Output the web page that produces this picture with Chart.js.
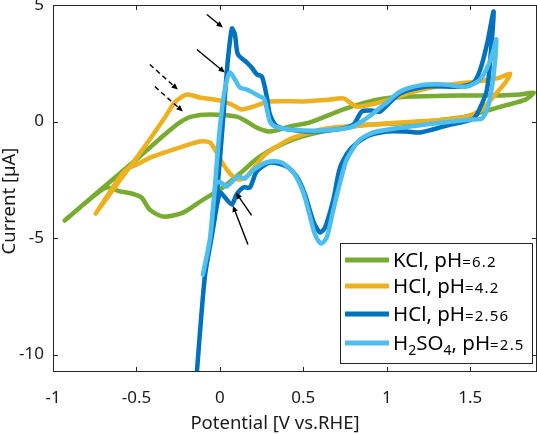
<!DOCTYPE html>
<html><head><meta charset="utf-8">
<script src="https://cdn.jsdelivr.net/npm/chart.js@4.4.1/dist/chart.umd.min.js"></script>
<style>html,body{margin:0;padding:0;background:#fff;}#wrap{width:537px;height:434px;}</style>
</head><body><div id="wrap"><canvas id="c" width="537" height="434"></canvas></div>
<script>
// ---- data (Potential [V vs. RHE], Current [µA]) ----
const kclPotential = [-0.93,-0.72,-0.48,-0.33,-0.24,-0.17,-0.06,0.10,0.16,0.22,0.30,0.42,0.54,0.74,0.94,1.14,1.44,1.68,1.80,1.88,
  1.83,1.71,1.54,1.44,1.24,1.04,0.84,0.64,0.44,0.24,0.12,0.00,-0.10,-0.22,-0.34,-0.42,-0.47,-0.53,-0.60,-0.68,-0.81,-0.93];
const kclCurrent = [-4.25,-2.96,-1.50,-0.56,-0.04,0.21,0.30,0.21,0.00,-0.26,-0.43,-0.21,-0.04,0.52,0.94,1.07,1.12,1.12,1.16,1.24,
  0.94,0.69,0.34,0.17,0.00,-0.09,-0.17,-0.39,-0.77,-1.50,-2.23,-2.92,-3.35,-3.91,-4.08,-3.78,-3.26,-3.09,-3.00,-2.83,-3.52,-4.25];

const hcl42Potential = [-0.744,-0.60,-0.45,-0.33,-0.27,-0.20,-0.12,0.00,0.07,0.13,0.20,0.30,0.50,0.66,0.74,0.82,0.93,1.04,1.14,1.34,1.54,1.68,1.74,
  1.71,1.65,1.57,1.48,1.28,1.08,0.84,0.64,0.44,0.36,0.27,0.21,0.16,0.11,0.06,0.01,-0.03,-0.06,-0.12,-0.22,-0.40,-0.50,-0.56,-0.61,-0.744];
const hcl42Current = [-3.95,-2.53,-1.07,0.17,0.82,1.16,1.03,0.90,0.73,0.52,0.64,0.86,0.86,0.94,0.99,0.64,0.77,0.99,1.24,1.55,1.72,1.89,2.06,
  1.67,1.16,0.52,0.21,0.04,-0.04,-0.17,-0.30,-0.69,-0.99,-1.42,-1.93,-2.36,-2.49,-2.23,-1.72,-1.20,-0.90,-0.86,-1.07,-1.50,-1.85,-2.06,-2.49,-3.95];

const hcl256Potential = [-0.138,-0.09,-0.042,-0.018,0.000,0.024,0.048,0.072,0.09,0.108,0.162,0.19,0.222,0.252,0.282,0.30,0.342,0.42,0.54,0.70,0.80,0.85,0.91,0.96,1.08,1.24,1.44,1.52,1.56,1.60,1.64,
  1.62,1.60,1.56,1.52,1.36,1.20,1.12,1.00,0.88,0.78,0.72,0.68,0.63,0.60,0.56,0.51,0.46,0.40,0.30,0.22,0.18,0.14,0.10,0.072,0.03,0.00,-0.042,-0.09,-0.138];
const hcl256Current = [-10.75,-6.65,-4.64,-3.13,-1.63,0.52,2.66,3.99,3.73,2.88,2.53,2.32,2.02,1.93,1.03,0.30,-0.21,-0.34,-0.43,-0.34,-0.13,0.43,0.47,0.43,1.20,1.50,1.50,1.67,2.23,3.30,4.72,
  2.66,1.37,0.60,0.13,-0.17,-0.47,-0.43,-0.43,-0.64,-1.20,-1.97,-3.35,-4.55,-4.76,-4.29,-3.13,-2.36,-1.93,-1.76,-2.15,-2.83,-2.83,-3.13,-3.56,-3.26,-3.05,-4.64,-6.65,-10.75];

const h2so4Potential = [-0.102,-0.06,-0.036,-0.012,0.012,0.036,0.06,0.09,0.12,0.162,0.198,0.24,0.264,0.282,0.30,0.33,0.42,0.60,0.78,0.85,0.91,1.00,1.08,1.20,1.34,1.48,1.56,1.61,1.64,1.656,
  1.64,1.61,1.57,1.50,1.34,1.14,0.94,0.84,0.76,0.72,0.68,0.64,0.606,0.57,0.54,0.50,0.44,0.37,0.30,0.24,0.19,0.15,0.11,0.08,0.04,0.006,-0.024,-0.06,-0.102];
const h2so4Current = [-6.57,-5.06,-3.35,-1.20,0.52,1.59,2.10,1.80,1.46,1.37,1.24,1.07,0.99,0.52,0.00,-0.21,-0.34,-0.39,-0.26,0.00,0.30,0.82,1.29,1.55,1.59,1.50,1.80,2.45,3.09,3.52,
  2.02,0.73,0.13,0.09,-0.04,-0.21,-0.43,-0.77,-1.63,-2.62,-3.78,-4.98,-5.24,-4.85,-4.08,-3.05,-2.19,-1.76,-1.72,-1.89,-2.15,-2.45,-2.36,-2.53,-2.79,-2.62,-2.62,-5.06,-6.57];

const xTickValues = [-1, -0.5, 0, 0.5, 1, 1.5];
const yTickValues = [-10, -5, 0, 5];
const xTitle = 'Potential [V vs.RHE]';
const yTitle = 'Current [µA]';

// legend labels (segments: normal / subscript / small)
const legendLabels = [
  [["KCl, pH","n"],["=6.2","s"]],
  [["HCl, pH","n"],["=4.2","s"]],
  [["HCl, pH","n"],["=2.56","s"]],
  [["H","n"],["2","b"],["SO","n"],["4","b"],[", pH","n"],["=2.5","s"]]
];
const seriesColors = ["#77AC30", "#EDB120", "#0072BD", "#4DBEEE"];

// annotation arrows (data coordinates)
const arrowTailX = [-0.078, -0.138, -0.42, -0.39, 0.19, 0.168];
const arrowTailY = [4.59, 3.09, 2.45, 1.50, -4.03, -5.28];
const arrowHeadX = [0.018, 0.03, -0.252, -0.222, 0.096, 0.078];
const arrowHeadY = [4.03, 2.10, 1.37, 0.43, -3.05, -3.61];
const arrowDashed = [false, false, true, true, false, false];

function pts(xs, ys){ return xs.map((v,i)=>({x:v, y:ys[i]})); }

const frame = {
  id:'frame',
  afterDraw(chart){
    const {ctx, chartArea:a, scales:{x,y}} = chart;
    ctx.save();
    ctx.strokeStyle = '#262626'; ctx.lineWidth = 1;
    ctx.strokeRect(a.left+0.5, a.top+0.5, a.right-a.left-1, a.bottom-a.top-1);
    ctx.beginPath();
    const tl = 5;
    xTickValues.forEach(v=>{ const px=Math.round(x.getPixelForValue(v))+0.5;
      ctx.moveTo(px,a.bottom); ctx.lineTo(px,a.bottom-tl); ctx.moveTo(px,a.top); ctx.lineTo(px,a.top+tl); });
    yTickValues.forEach(v=>{ const py=Math.round(y.getPixelForValue(v))+0.5;
      ctx.moveTo(a.left,py); ctx.lineTo(a.left+tl,py); ctx.moveTo(a.right,py); ctx.lineTo(a.right-tl,py); });
    ctx.stroke();
    // axis titles
    ctx.fillStyle='#1a1a1a'; ctx.font='18.5px "Noto Sans"';
    ctx.textAlign='center'; ctx.textBaseline='middle';
    ctx.fillText(xTitle, a.left+222, a.bottom+52);
    ctx.translate(10, a.top+196); ctx.rotate(-Math.PI/2);
    ctx.fillText(yTitle, 0, 0);
    ctx.restore();
  }
};

const arrows = {
  id:'arrows',
  afterDatasetsDraw(chart){
    const {ctx, scales:{x,y}} = chart;
    ctx.save();
    ctx.strokeStyle='#000'; ctx.fillStyle='#000'; ctx.lineWidth=1.4;
    for(let i=0;i<arrowTailX.length;i++){
      const x0=x.getPixelForValue(arrowTailX[i]), y0=y.getPixelForValue(arrowTailY[i]);
      const x1=x.getPixelForValue(arrowHeadX[i]), y1=y.getPixelForValue(arrowHeadY[i]);
      const ang=Math.atan2(y1-y0,x1-x0), hl=7;
      ctx.setLineDash(arrowDashed[i]?[5,3.5]:[]);
      ctx.beginPath(); ctx.moveTo(x0,y0);
      ctx.lineTo(x1-Math.cos(ang)*hl*0.7, y1-Math.sin(ang)*hl*0.7); ctx.stroke();
      ctx.setLineDash([]);
      ctx.beginPath(); ctx.moveTo(x1,y1);
      ctx.lineTo(x1-hl*Math.cos(ang-0.42), y1-hl*Math.sin(ang-0.42));
      ctx.lineTo(x1-hl*Math.cos(ang+0.42), y1-hl*Math.sin(ang+0.42));
      ctx.closePath(); ctx.fill();
    }
    ctx.restore();
  }
};

const legendBox = {
  id:'legendBox',
  afterDraw(chart){
    const {ctx, chartArea:a} = chart;
    const bx=a.right-197, by=a.bottom-129, bw=193, bh=121;
    ctx.save();
    ctx.fillStyle='#fff'; ctx.fillRect(bx,by,bw,bh);
    ctx.strokeStyle='#262626'; ctx.lineWidth=1; ctx.strokeRect(bx+0.5,by+0.5,bw-1,bh-1);
    const rowY=[by+17, by+43, by+71, by+100];
    legendLabels.forEach((segs,i)=>{
      const yy=rowY[i];
      ctx.strokeStyle=seriesColors[i]; ctx.lineWidth=5; ctx.lineCap='butt';
      ctx.beginPath(); ctx.moveTo(bx+5,yy); ctx.lineTo(bx+49,yy); ctx.stroke();
      let tx=bx+53;
      ctx.fillStyle='#000'; ctx.textBaseline='alphabetic'; ctx.textAlign='left';
      segs.forEach(([t,k])=>{
        let base=yy+7;
        if(k==='n'){ ctx.font='20.5px "Noto Sans"'; ctx.letterSpacing='0px'; }
        else if(k==='s'){ ctx.font='15px "Noto Sans"'; ctx.letterSpacing='1.2px'; }
        else { ctx.font='14px "Noto Sans"'; ctx.letterSpacing='0px'; base=yy+12; }
        ctx.fillText(t,tx,base);
        tx+=ctx.measureText(t).width;
      });
    });
    ctx.restore();
  }
};

const mk = (label, xs, ys, color, order) => ({
  label, data: pts(xs, ys), borderColor: color, backgroundColor: color,
  showLine: true, pointRadius: 0, borderWidth: 4.5, tension: 0.25,
  borderCapStyle:'round', borderJoinStyle:'round', fill:false, order
});

new Chart(document.getElementById('c'), {
  type: 'scatter',
  data: { datasets: [
    mk('KCl, pH=6.2', kclPotential, kclCurrent, seriesColors[0], 3),
    mk('HCl, pH=4.2', hcl42Potential, hcl42Current, seriesColors[1], 2),
    mk('HCl, pH=2.56', hcl256Potential, hcl256Current, seriesColors[2], 1),
    mk('H2SO4, pH=2.5', h2so4Potential, h2so4Current, seriesColors[3], 0)
  ]},
  options: {
    responsive:false, animation:false, devicePixelRatio:1,
    layout:{padding:{top:5,right:0,left:0,bottom:0}},
    plugins:{legend:{display:false}, tooltip:{enabled:false}},
    scales:{
      x:{ type:'linear', min:-1, max:1.9,
        afterBuildTicks:s=>{ s.ticks = xTickValues.map(v=>({value:v})); },
        afterFit:s=>{ s.height=62; s.paddingLeft=0; s.paddingRight=0; },
        grid:{display:false, drawTicks:false}, border:{display:false},
        ticks:{ padding:16, color:'#1a1a1a', font:{family:'"Noto Sans"', size:17}, callback:v=>String(v), maxRotation:0, autoSkip:false },
        title:{display:false}
      },
      y:{ type:'linear', min:-10.75, max:5,
        afterBuildTicks:s=>{ s.ticks = yTickValues.map(v=>({value:v})); },
        afterFit:s=>{ s.width=53; s.paddingTop=0; s.paddingBottom=0; },
        grid:{display:false, drawTicks:false}, border:{display:false},
        ticks:{ padding:9, color:'#1a1a1a', font:{family:'"Noto Sans"', size:17}, callback:v=>String(v), autoSkip:false },
        title:{display:false}
      }
    }
  },
  plugins:[frame, arrows, legendBox]
});
</script>
</body></html>
